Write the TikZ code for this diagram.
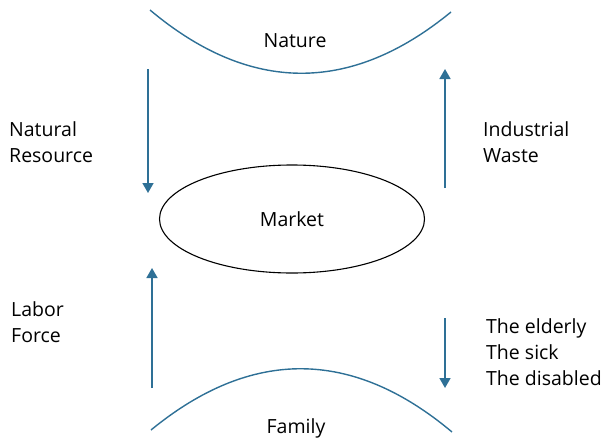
\documentclass[tikz,border=0pt]{standalone}
\usepackage{fontspec}
\setmainfont{Open Sans}
\usetikzlibrary{arrows.meta,shapes.geometric}
\definecolor{flow}{RGB}{46,112,150}
\begin{document}
\begin{tikzpicture}[x=1pt,y=-1pt,
  lbl/.style={font=\fontsize{19.5}{26}\selectfont, inner sep=0pt},
  side/.style={lbl, align=left, anchor=west},
  arc/.style={draw=flow, line width=1.4pt},
  flowarrow/.style={draw=flow, line width=1.7pt, -{Triangle[length=10pt,width=11pt]}}]
\useasboundingbox (0,0) rectangle (607,439);
% arcs
\draw[arc] (150,10) .. controls (250,94) and (351,94) .. (451,12);
\draw[arc] (151,430) .. controls (251,348) and (352,348) .. (452,432);
% labels
\node[lbl] (nature) at (295,41) {Nature};
\node[lbl] (family) at (296,428) {Family};
\node[draw, line width=1.1pt, ellipse, minimum width=265pt, minimum height=108pt, inner sep=0pt, font=\fontsize{19.5}{26}\selectfont] (market) at (292,219) {Market};
\node[side] (nr) at (9,142) {Natural\\Resource};
\node[side] (iw) at (483,142) {Industrial\\Waste};
\node[side] (lf) at (11,322) {Labor\\Force};
\node[side] (vul) at (486,352) {The elderly\\The sick\\The disabled};
% arrow endpoints
\coordinate (a1s) at (148,69);  \coordinate (a1e) at (148,193);
\coordinate (a2s) at (445,188); \coordinate (a2e) at (445,69);
\coordinate (a3s) at (152,388); \coordinate (a3e) at (152,268);
\coordinate (a4s) at (445,318); \coordinate (a4e) at (445,388);
\draw[flowarrow] (a1s) -- (a1e);
\draw[flowarrow] (a2s) -- (a2e);
\draw[flowarrow] (a3s) -- (a3e);
\draw[flowarrow] (a4s) -- (a4e);
\end{tikzpicture}
\end{document}
